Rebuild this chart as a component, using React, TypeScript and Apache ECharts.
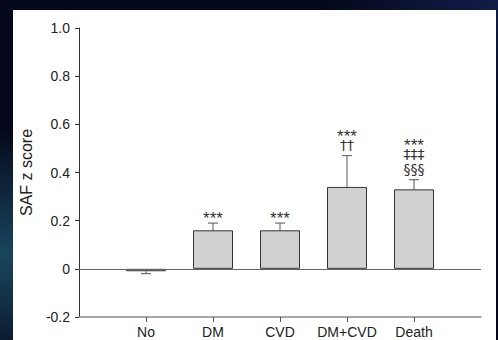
import React, { useEffect, useRef } from 'react';
import * as echarts from 'echarts';

const categories = ['No', 'DM', 'CVD', 'DM+CVD', 'Death'];
const means = [-0.01, 0.16, 0.16, 0.34, 0.33];
const errorEnds = [-0.02, 0.19, 0.19, 0.47, 0.37];
const annotations: string[][] = [[], ['***'], ['***'], ['***', '††'], ['***', '‡‡‡', '§§§']];

const FONT = '"Liberation Sans", Arial, sans-serif';

export default function App() {
  const ref = useRef<HTMLDivElement>(null);
  useEffect(() => {
    const chart = echarts.init(ref.current!, null, { renderer: 'svg' });
    const axisCats = ['', ...categories, ''];
    chart.setOption({
      animation: false,
      grid: { left: 79, right: 17, top: 28, bottom: 23 },
      xAxis: {
        type: 'category',
        data: axisCats,
        boundaryGap: false,
        axisLine: { onZero: false, lineStyle: { color: '#8a8a8a', width: 1.5 } },
        axisTick: {
          show: true,
          length: 5,
          interval: (i: number) => i > 0 && i < axisCats.length - 1,
          lineStyle: { color: '#555' },
        },
        axisLabel: { interval: 0, margin: 8, color: '#222', fontSize: 14, fontFamily: FONT },
        splitLine: { show: false },
      },
      yAxis: {
        type: 'value',
        min: -0.2,
        max: 1,
        interval: 0.2,
        name: 'SAF z score',
        nameLocation: 'middle',
        nameGap: 40,
        nameTextStyle: { fontSize: 16, color: '#222', fontFamily: FONT },
        axisLine: { show: true, lineStyle: { color: '#333' } },
        axisTick: { show: true, length: 4, lineStyle: { color: '#333' } },
        axisLabel: {
          margin: 9,
          color: '#222',
          fontSize: 14,
          fontFamily: FONT,
          formatter: (v: number) => (Math.abs(v) < 1e-9 ? '0' : v.toFixed(1)),
        },
        splitLine: { show: false },
      },
      series: [
        {
          type: 'bar',
          data: ['-', ...means, '-'],
          barWidth: 40,
          itemStyle: { color: '#d1d1d1', borderColor: '#333', borderWidth: 1 },
          markLine: {
            silent: true,
            symbol: 'none',
            label: { show: false },
            lineStyle: { color: '#666', width: 1, type: 'solid' },
            data: [{ yAxis: 0 }],
          },
        },
        {
          type: 'custom',
          itemStyle: { color: '#333' },
          data: categories.map((c, i) => [i + 1, means[i], errorEnds[i], i]),
          renderItem: (params: any, api: any) => {
            const x = api.value(0);
            const m = api.value(1);
            const e = api.value(2);
            const idx = api.value(3);
            const base = api.coord([x, m]);
            const top = api.coord([x, e]);
            const children: any[] = [
              {
                type: 'line',
                shape: { x1: base[0], y1: base[1], x2: top[0], y2: top[1] },
                style: { stroke: '#555', lineWidth: 1 },
              },
              {
                type: 'line',
                shape: { x1: top[0] - 5, y1: top[1], x2: top[0] + 5, y2: top[1] },
                style: { stroke: '#555', lineWidth: 1 },
              },
            ];
            const lines = annotations[idx] || [];
            if (lines.length) {
              const text = lines
                .map((t) => (t.indexOf('*') >= 0 ? '{s|' + t + '}' : '{d|' + t + '}'))
                .join('\n');
              children.push({
                type: 'text',
                style: {
                  text,
                  x: top[0],
                  y: top[1] - 3.5,
                  align: 'center',
                  verticalAlign: 'bottom',
                  fill: '#333',
                  rich: {
                    s: { fontSize: 17, lineHeight: 2, fontFamily: FONT, fill: '#333', align: 'center' },
                    d: { fontSize: 14, lineHeight: 15, fontFamily: '"DejaVu Sans", sans-serif', fill: '#333', align: 'center' },
                  },
                },
              });
            }
            return { type: 'group', children };
          },
          z: 5,
        },
      ],
    });
    return () => chart.dispose();
  }, []);
  return (
    <div
      style={{
        position: 'fixed',
        left: 0,
        top: 0,
        width: 498,
        height: 340,
        overflow: 'hidden',
        background:
          'radial-gradient(ellipse at 0% 75%, rgba(40,120,150,0.55), transparent 35%), radial-gradient(ellipse at 100% 0%, rgba(30,50,120,0.5), transparent 25%), #05081a',
      }}
    >
      <div style={{ position: 'absolute', left: 13, top: 10, width: 483, height: 335, background: '#fff' }} />
      <div ref={ref} style={{ position: 'absolute', left: 0, top: 0, width: 498, height: 340 }} />
    </div>
  );
}
